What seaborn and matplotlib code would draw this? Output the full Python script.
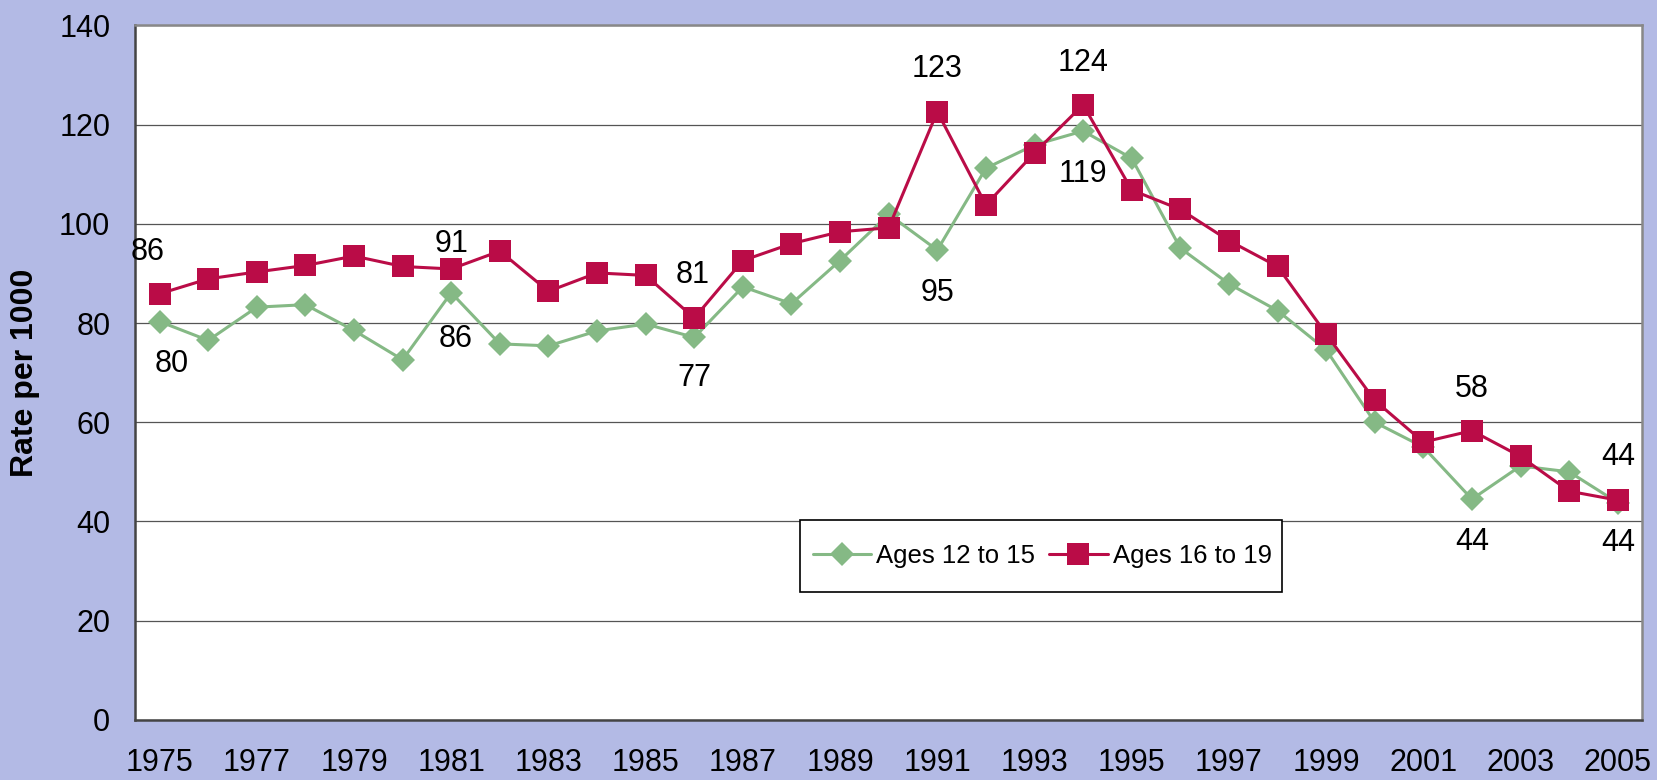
import numpy as np
import pandas as pd
import matplotlib
matplotlib.use('Agg')
import matplotlib.pyplot as plt
from matplotlib.patches import Rectangle
import seaborn as sns

years = list(range(1975, 2006))
ages_12_15 = [80.3, 76.5, 83.2, 83.7, 78.5, 72.6, 86.1, 75.8, 75.4, 78.4,
              79.8, 77.1, 87.3, 83.9, 92.6, 101.9, 94.7, 111.2, 115.9, 118.7,
              113.2, 95.1, 87.9, 82.5, 74.6, 60.0, 55.0, 44.5, 51.2, 50.0, 43.8]
ages_16_19 = [85.9, 88.9, 90.3, 91.6, 93.5, 91.4, 90.9, 94.5, 86.4, 90.1,
              89.6, 81.0, 92.6, 96.0, 98.4, 99.2, 122.6, 103.8, 114.3, 124.0,
              106.8, 102.9, 96.6, 91.4, 77.8, 64.4, 56.0, 58.3, 53.1, 46.1, 44.3]
series_names = ['Ages 12 to 15', 'Ages 16 to 19']
tick_years = [str(y) for y in years[::2]]

# labels shown on the chart: (series, year, text, dx, dy) offsets in pixels
point_labels = [
    ('Ages 16 to 19', 1975, '86', -12, 42), ('Ages 12 to 15', 1975, '80', 12, -42),
    ('Ages 16 to 19', 1981, '91', 0, 25), ('Ages 12 to 15', 1981, '86', 4, -46),
    ('Ages 16 to 19', 1986, '81', -2, 43), ('Ages 12 to 15', 1986, '77', 0, -41),
    ('Ages 16 to 19', 1991, '123', 0, 43), ('Ages 12 to 15', 1991, '95', 0, -43),
    ('Ages 16 to 19', 1994, '124', 0, 42), ('Ages 12 to 15', 1994, '119', 0, -43),
    ('Ages 16 to 19', 2002, '58', 0, 42), ('Ages 12 to 15', 2002, '44', 0, -43),
    ('Ages 16 to 19', 2005, '44', 0, 43), ('Ages 12 to 15', 2005, '44', 0, -40),
]

bg = '#B3BAE5'
red = '#BA0C47'
green = '#85B985'

df = pd.DataFrame({
    'pos': list(range(len(years))) * 2,
    'year': years * 2,
    'rate': ages_12_15 + ages_16_19,
    'series': [series_names[0]] * len(years) + [series_names[1]] * len(years),
})

sns.set_style('white')
plt.rcParams['font.family'] = ['Liberation Sans', 'DejaVu Sans']
plt.rcParams['text.color'] = 'black'
plt.rcParams['axes.labelcolor'] = 'black'

fig = plt.figure(figsize=(16.58, 7.8), dpi=100, facecolor=bg)
ax = fig.add_axes([0.0816, 0.077, 0.9088, 0.8905])
ax.set_facecolor('white')

sub = df[df['series'] == series_names[0]]
sns.lineplot(data=sub, x='pos', y='rate', ax=ax, color=green, marker='D',
             markersize=12, markeredgewidth=0, linewidth=2.2, label=series_names[0])
sub = df[df['series'] == series_names[1]]
sns.lineplot(data=sub, x='pos', y='rate', ax=ax, color=red, marker='s',
             markersize=15.5, markeredgewidth=0, linewidth=2.2, label=series_names[1])

for name, yr, txt, dx, dy in point_labels:
    row = df[(df['series'] == name) & (df['year'] == yr)].iloc[0]
    ax.annotate(txt, (row['pos'], row['rate']), xytext=(dx, dy), textcoords='offset pixels',
                ha='center', va='center', fontsize=22, color='black')

ax.set_xlim(-0.5, len(years) - 0.5)
ax.set_ylim(0, 140)
ax.set_yticks(range(0, 141, 20))
ax.set_xticks(range(0, len(years), 2))
ax.set_xticklabels(tick_years)
ax.set_xticks(np.arange(-0.5, len(years), 1.0), minor=True)
ax.tick_params(axis='x', which='major', length=0, pad=20, labelsize=22, labelcolor='black')
ax.tick_params(axis='x', which='minor', length=7, width=1.2, color='#333333', direction='out')
ax.tick_params(axis='y', length=7, width=1.2, color='#333333', direction='out', pad=11,
               labelsize=22, labelcolor='black')
ax.yaxis.grid(True, color='#555555', linewidth=0.9)
ax.xaxis.grid(False)
ax.set_axisbelow(True)

for side in ['left', 'bottom']:
    ax.spines[side].set_color('#444444')
    ax.spines[side].set_linewidth(1.8)
for side in ['top', 'right']:
    ax.spines[side].set_color('#888888')
    ax.spines[side].set_linewidth(1.8)
    ax.spines[side].set_visible(True)

ax.set_xlabel('')
ax.set_ylabel('Rate per 1000', fontsize=23, fontweight='bold', color='black')
ax.yaxis.set_label_coords(-0.063, 0.5)

# legend box: white panel with black border, legend entries centred inside
ax.add_patch(Rectangle((0.441, 0.184), 0.32, 0.104, transform=ax.transAxes,
                       facecolor='white', edgecolor='black', linewidth=1.2, zorder=4))
leg = ax.legend(loc='center', bbox_to_anchor=(0.602, 0.236), ncol=2, fontsize=18.5,
                frameon=False, handlelength=2.26, handletextpad=0.2,
                columnspacing=0.55, borderpad=0.3, labelcolor='black')
leg.set_zorder(5)

plt.savefig('out.png', dpi=100, facecolor=bg)
